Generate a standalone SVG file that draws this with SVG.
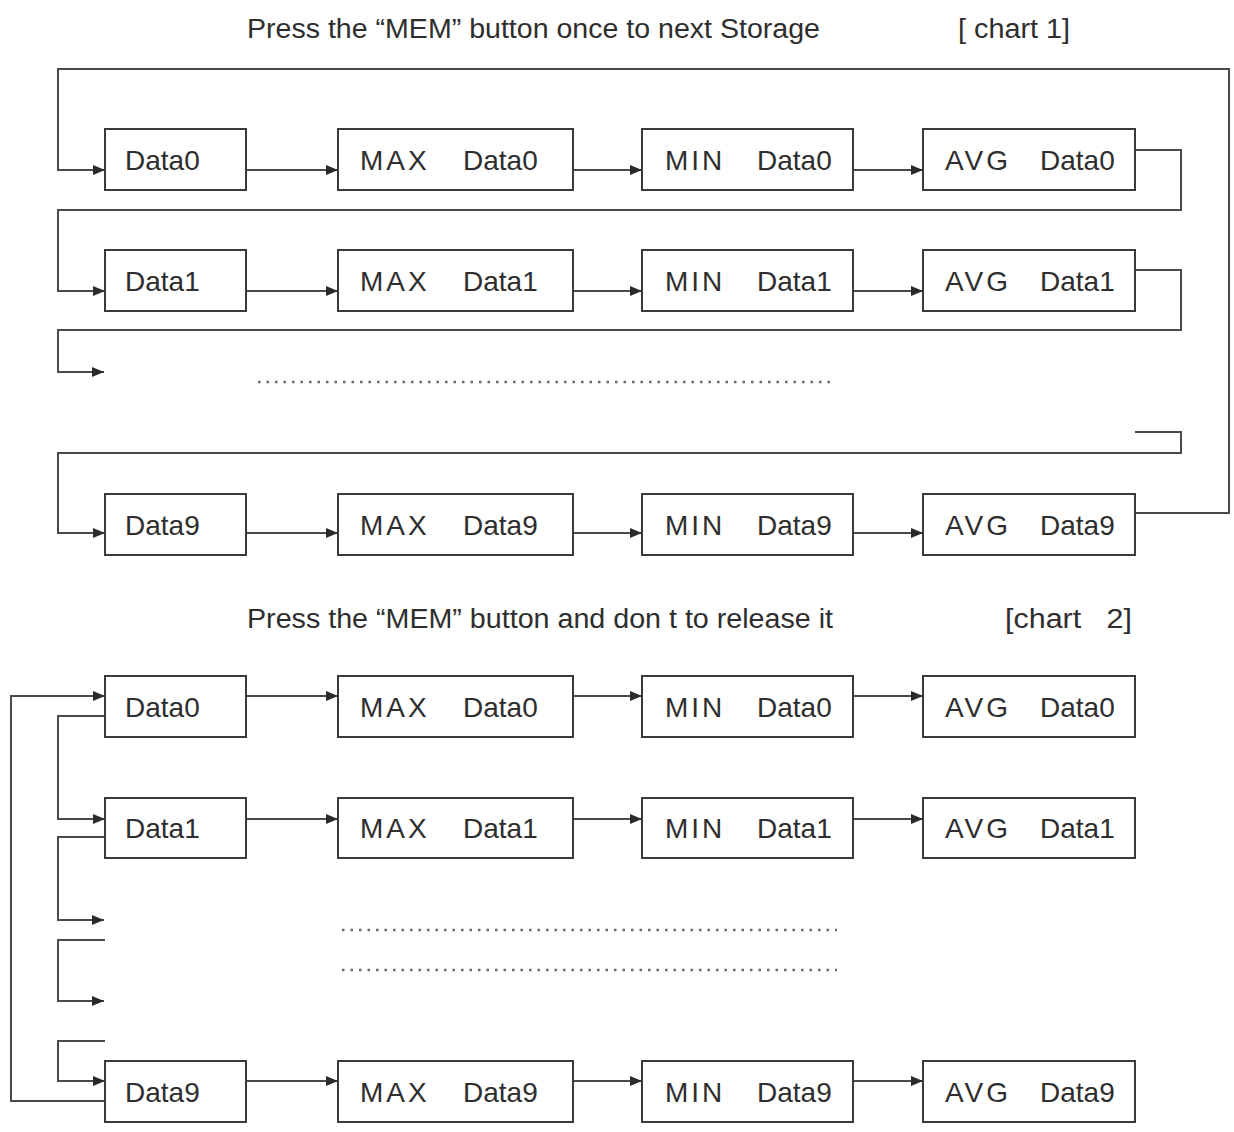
<svg xmlns="http://www.w3.org/2000/svg" width="1234" height="1132" viewBox="0 0 1234 1132">
<style>
  .bg { fill: #ffffff; }
  .box { fill: #ffffff; stroke: #3a3a3a; stroke-width: 2; }
  .lbl { font-family: "Liberation Sans", Arial, sans-serif; font-size: 28px; fill: #2e2e2e; }
  .kw { letter-spacing: 3px; }
  .title { font-family: "Liberation Sans", Arial, sans-serif; font-size: 27px; fill: #2e2e2e; white-space: pre; }
  .conn { fill: none; stroke: #4a4a4a; stroke-width: 2; }
  .arr { marker-end: url(#ah); }
  .dots { fill: none; stroke: #6a6a6a; stroke-width: 2.5; stroke-dasharray: 2.5 6; }
</style>
<defs>
  <marker id="ah" markerUnits="userSpaceOnUse" markerWidth="12" markerHeight="10" refX="12" refY="5" orient="auto">
    <path d="M0,0 L12,5 L0,10 Z" fill="#2a2a2a"/>
  </marker>
</defs>
<rect class="bg" x="0" y="0" width="1234" height="1132"/>

<g id="titles">
  <text class="title" x="247" y="38" textLength="573" lengthAdjust="spacingAndGlyphs">Press the “MEM” button once to next Storage</text>
  <text class="title" x="958" y="38" textLength="112" lengthAdjust="spacingAndGlyphs">[ chart 1]</text>
  <text class="title" x="247" y="628" textLength="586" lengthAdjust="spacingAndGlyphs">Press the “MEM” button and don t to release it</text>
  <text class="title" x="1005" y="628" textLength="127" lengthAdjust="spacingAndGlyphs" xml:space="preserve">[chart   2]</text>
</g>

<g id="connectors">
  <!-- chart 1 row arrows -->
  <path class="conn arr" d="M246,170 H338"/>
  <path class="conn arr" d="M573,170 H642"/>
  <path class="conn arr" d="M853,170 H923"/>
  <path class="conn arr" d="M246,291 H338"/>
  <path class="conn arr" d="M573,291 H642"/>
  <path class="conn arr" d="M853,291 H923"/>
  <path class="conn arr" d="M246,533 H338"/>
  <path class="conn arr" d="M573,533 H642"/>
  <path class="conn arr" d="M853,533 H923"/>
  <!-- chart 1 wraps -->
  <path class="conn arr" d="M1135,150 H1181 V210 H58 V291 H105"/>
  <path class="conn arr" d="M1135,270 H1181 V330 H58 V372 H104"/>
  <path class="conn arr" d="M1135,432 H1181 V453 H58 V533 H105"/>
  <path class="conn arr" d="M1135,513 H1229 V69 H58 V170 H105"/>
  <path class="dots" d="M258,382 H831"/>
  <!-- chart 2 row arrows -->
  <path class="conn arr" d="M246,696 H338"/>
  <path class="conn arr" d="M573,696 H642"/>
  <path class="conn arr" d="M853,696 H923"/>
  <path class="conn arr" d="M246,819 H338"/>
  <path class="conn arr" d="M573,819 H642"/>
  <path class="conn arr" d="M853,819 H923"/>
  <path class="conn arr" d="M246,1081 H338"/>
  <path class="conn arr" d="M573,1081 H642"/>
  <path class="conn arr" d="M853,1081 H923"/>
  <!-- chart 2 left loops -->
  <path class="conn arr" d="M105,716 H58 V819 H105"/>
  <path class="conn arr" d="M105,837 H58 V920 H104"/>
  <path class="conn arr" d="M105,940 H58 V1001 H104"/>
  <path class="conn arr" d="M105,1041 H58 V1081 H105"/>
  <path class="conn arr" d="M105,1101 H11 V696 H105"/>
  <path class="dots" d="M342,930 H837"/>
  <path class="dots" d="M342,970 H837"/>
</g>

<!-- chart 1 nodes -->
<g id="c1-data0"><rect class="box" x="105" y="129" width="141" height="61"/><text class="lbl" x="125" y="170">Data0</text></g>
<g id="c1-max0"><rect class="box" x="338" y="129" width="235" height="61"/><text class="lbl kw" x="360" y="170">MAX</text><text class="lbl" x="463" y="170">Data0</text></g>
<g id="c1-min0"><rect class="box" x="642" y="129" width="211" height="61"/><text class="lbl kw" x="665" y="170">MIN</text><text class="lbl" x="757" y="170">Data0</text></g>
<g id="c1-avg0"><rect class="box" x="923" y="129" width="212" height="61"/><text class="lbl kw" x="945" y="170">AVG</text><text class="lbl" x="1040" y="170">Data0</text></g>

<g id="c1-data1"><rect class="box" x="105" y="250" width="141" height="61"/><text class="lbl" x="125" y="291">Data1</text></g>
<g id="c1-max1"><rect class="box" x="338" y="250" width="235" height="61"/><text class="lbl kw" x="360" y="291">MAX</text><text class="lbl" x="463" y="291">Data1</text></g>
<g id="c1-min1"><rect class="box" x="642" y="250" width="211" height="61"/><text class="lbl kw" x="665" y="291">MIN</text><text class="lbl" x="757" y="291">Data1</text></g>
<g id="c1-avg1"><rect class="box" x="923" y="250" width="212" height="61"/><text class="lbl kw" x="945" y="291">AVG</text><text class="lbl" x="1040" y="291">Data1</text></g>

<g id="c1-data9"><rect class="box" x="105" y="494" width="141" height="61"/><text class="lbl" x="125" y="535">Data9</text></g>
<g id="c1-max9"><rect class="box" x="338" y="494" width="235" height="61"/><text class="lbl kw" x="360" y="535">MAX</text><text class="lbl" x="463" y="535">Data9</text></g>
<g id="c1-min9"><rect class="box" x="642" y="494" width="211" height="61"/><text class="lbl kw" x="665" y="535">MIN</text><text class="lbl" x="757" y="535">Data9</text></g>
<g id="c1-avg9"><rect class="box" x="923" y="494" width="212" height="61"/><text class="lbl kw" x="945" y="535">AVG</text><text class="lbl" x="1040" y="535">Data9</text></g>

<!-- chart 2 nodes -->
<g id="c2-data0"><rect class="box" x="105" y="676" width="141" height="61"/><text class="lbl" x="125" y="717">Data0</text></g>
<g id="c2-max0"><rect class="box" x="338" y="676" width="235" height="61"/><text class="lbl kw" x="360" y="717">MAX</text><text class="lbl" x="463" y="717">Data0</text></g>
<g id="c2-min0"><rect class="box" x="642" y="676" width="211" height="61"/><text class="lbl kw" x="665" y="717">MIN</text><text class="lbl" x="757" y="717">Data0</text></g>
<g id="c2-avg0"><rect class="box" x="923" y="676" width="212" height="61"/><text class="lbl kw" x="945" y="717">AVG</text><text class="lbl" x="1040" y="717">Data0</text></g>

<g id="c2-data1"><rect class="box" x="105" y="798" width="141" height="60"/><text class="lbl" x="125" y="838">Data1</text></g>
<g id="c2-max1"><rect class="box" x="338" y="798" width="235" height="60"/><text class="lbl kw" x="360" y="838">MAX</text><text class="lbl" x="463" y="838">Data1</text></g>
<g id="c2-min1"><rect class="box" x="642" y="798" width="211" height="60"/><text class="lbl kw" x="665" y="838">MIN</text><text class="lbl" x="757" y="838">Data1</text></g>
<g id="c2-avg1"><rect class="box" x="923" y="798" width="212" height="60"/><text class="lbl kw" x="945" y="838">AVG</text><text class="lbl" x="1040" y="838">Data1</text></g>

<g id="c2-data9"><rect class="box" x="105" y="1061" width="141" height="61"/><text class="lbl" x="125" y="1102">Data9</text></g>
<g id="c2-max9"><rect class="box" x="338" y="1061" width="235" height="61"/><text class="lbl kw" x="360" y="1102">MAX</text><text class="lbl" x="463" y="1102">Data9</text></g>
<g id="c2-min9"><rect class="box" x="642" y="1061" width="211" height="61"/><text class="lbl kw" x="665" y="1102">MIN</text><text class="lbl" x="757" y="1102">Data9</text></g>
<g id="c2-avg9"><rect class="box" x="923" y="1061" width="212" height="61"/><text class="lbl kw" x="945" y="1102">AVG</text><text class="lbl" x="1040" y="1102">Data9</text></g>
</svg>
